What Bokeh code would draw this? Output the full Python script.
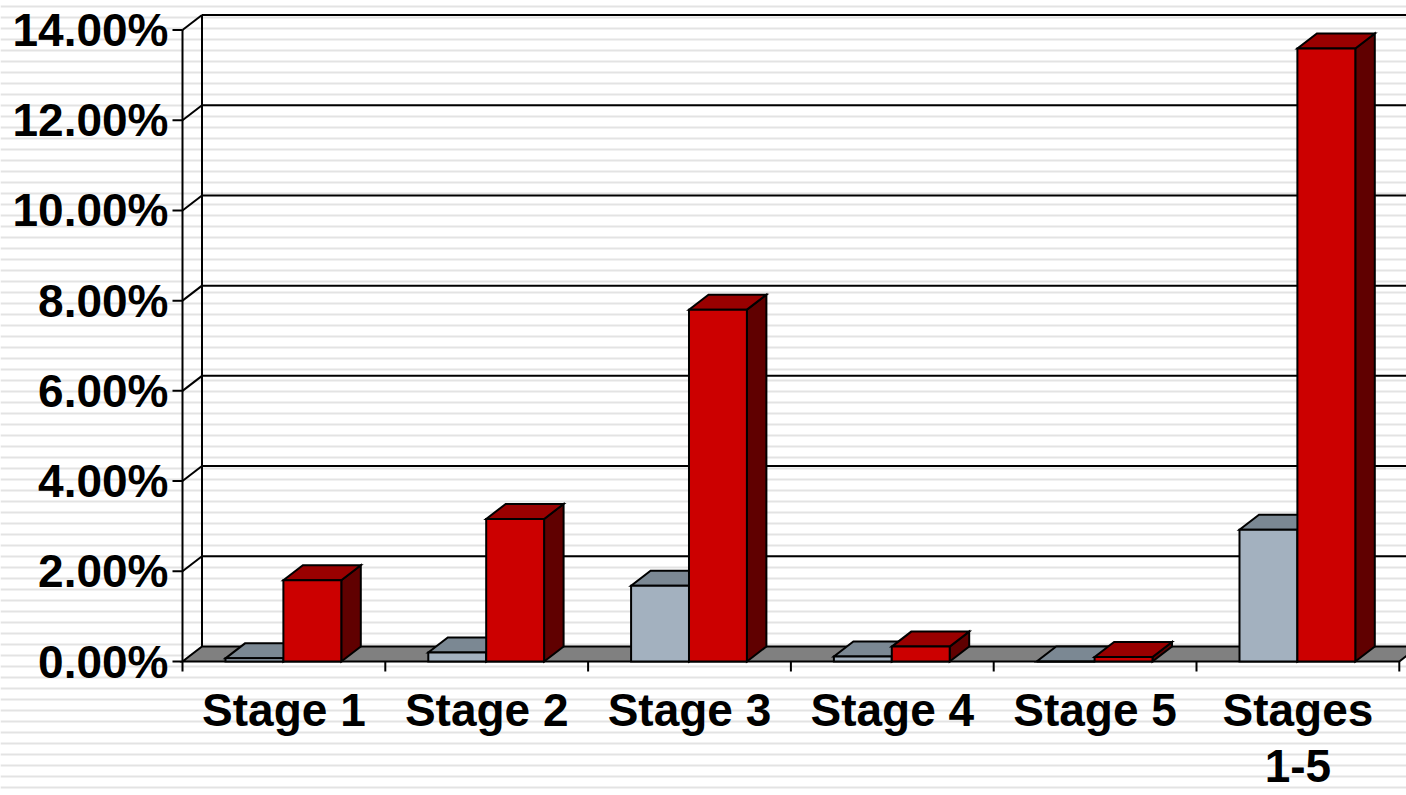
from bokeh.plotting import figure
from bokeh.models import Range1d, BoxAnnotation
from bokeh.core.properties import value
from bokeh.embed import file_html
from bokeh.resources import INLINE

# ---- data -------------------------------------------------------------
categories = ["Stage 1", "Stage 2", "Stage 3", "Stage 4", "Stage 5", "Stages\n1-5"]
series_low = [0.07, 0.20, 1.68, 0.11, 0.00, 2.92]      # light steel-blue columns (%)
series_high = [1.80, 3.16, 7.80, 0.33, 0.10, 13.59]    # red columns (%)
y_ticks = [0, 2, 4, 6, 8, 10, 12, 14]
y_tick_labels = ["0.00%", "2.00%", "4.00%", "6.00%", "8.00%", "10.00%", "12.00%", "14.00%"]

# ---- layout (pixel scale of the drawing) --------------------------------
W, H = 1406, 795
PX_PER_CAT = 202.8          # horizontal pixels per category slot
PX_PER_PCT = 45.107         # vertical pixels per percentage point
ORIGIN_X, ORIGIN_Y = 182, 661   # screen position of the front (0, 0) corner

def dx(px):
    return px / PX_PER_CAT

def dy(px):
    return px / PX_PER_PCT

DEPTH_X = dx(19.5)          # 3-D depth offset
DEPTH_Y = dy(15.0)
N = len(categories)
Y_MAX = y_ticks[-1]

x_start = -dx(ORIGIN_X)
x_end = dx(W - ORIGIN_X)
y_start = -dy(H - ORIGIN_Y)
y_end = dy(ORIGIN_Y)

p = figure(width=W, height=H, x_range=Range1d(x_start, x_end), y_range=Range1d(y_start, y_end),
           x_axis_type=None, y_axis_type=None, output_backend="svg", toolbar_location=None,
           min_border=0, outline_line_color=None, background_fill_color="white",
           border_fill_color="white")

# striped backdrop
p.add_layout(BoxAnnotation(left=x_start, right=x_end, bottom=y_start, top=y_end,
                           fill_color="white", fill_alpha=1.0, line_color=None,
                           hatch_pattern="horizontal_line", hatch_color="#e3e3e3",
                           hatch_weight=2, hatch_scale=11, level="underlay"))

LW = 2
# back wall: left edge, grid lines and side-wall diagonals
p.segment(x0=[DEPTH_X], y0=[DEPTH_Y], x1=[DEPTH_X], y1=[Y_MAX + DEPTH_Y], line_color="black", line_width=LW)
grid_t = [t for t in y_ticks if t > 0]
p.segment(x0=[DEPTH_X] * len(grid_t), y0=[t + DEPTH_Y for t in grid_t],
          x1=[N + DEPTH_X] * len(grid_t), y1=[t + DEPTH_Y for t in grid_t],
          line_color="black", line_width=LW)
p.segment(x0=[0] * len(grid_t), y0=grid_t, x1=[DEPTH_X] * len(grid_t),
          y1=[t + DEPTH_Y for t in grid_t], line_color="black", line_width=LW)

# floor
p.patch(x=[0, N, N + DEPTH_X, DEPTH_X], y=[0, 0, DEPTH_Y, DEPTH_Y], fill_color="#808080",
        line_color="black", line_width=LW, line_join="miter")

# front value axis with ticks
p.segment(x0=[0], y0=[0], x1=[0], y1=[Y_MAX], line_color="black", line_width=LW)
p.segment(x0=[-dx(10)] * len(y_ticks), y0=y_ticks, x1=[0] * len(y_ticks), y1=y_ticks,
          line_color="black", line_width=LW)
# category axis ticks at slot boundaries
bounds = list(range(N + 1))
p.segment(x0=bounds, y0=[0] * len(bounds), x1=bounds, y1=[-dy(10)] * len(bounds),
          line_color="black", line_width=LW)

# ---- 3-D columns --------------------------------------------------------
BAR_W = 0.2855
LOW_OFF = 0.212

def faces(left, height):
    right = left + BAR_W
    front = ([left, right, right, left], [0, 0, height, height])
    top = ([left, right, right + DEPTH_X, left + DEPTH_X],
           [height, height, height + DEPTH_Y, height + DEPTH_Y])
    side = ([right, right + DEPTH_X, right + DEPTH_X, right],
            [0, DEPTH_Y, height + DEPTH_Y, height])
    return front, top, side

def draw_series(values, offset, c_front, c_top, c_side):
    fr_x, fr_y, tp_x, tp_y, sd_x, sd_y = [], [], [], [], [], []
    for i, v in enumerate(values):
        (fx, fy), (tx, ty), (sx, sy) = faces(i + offset, v)
        fr_x.append(fx); fr_y.append(fy)
        tp_x.append(tx); tp_y.append(ty)
        sd_x.append(sx); sd_y.append(sy)
    kw = dict(line_color="black", line_width=LW, line_join="miter")
    p.patches(xs=sd_x, ys=sd_y, fill_color=c_side, **kw)
    p.patches(xs=tp_x, ys=tp_y, fill_color=c_top, **kw)
    p.patches(xs=fr_x, ys=fr_y, fill_color=c_front, **kw)

draw_series(series_low, LOW_OFF, "#a3b1bf", "#7b8893", "#5d6872")
draw_series(series_high, LOW_OFF + BAR_W, "#cc0000", "#990000", "#600000")

# ---- labels -------------------------------------------------------------
font = dict(text_font=value("Liberation Sans"), text_font_style="bold",
            text_font_size="46px", text_color="black")

p.text(x=[-dx(14)] * len(y_ticks), y=y_ticks, text=y_tick_labels,
       text_align="right", text_baseline="middle", **font)

# category labels, one glyph call per text line
LINE_OFFSETS = [48, 104]    # pixels below the front edge of the floor
for k, off in enumerate(LINE_OFFSETS):
    xs, ys, ts = [], [], []
    for i, c in enumerate(categories):
        lines = c.split("\n")
        if k < len(lines):
            xs.append(i + 0.5)
            ys.append(-dy(off))
            ts.append(lines[k])
    p.text(x=xs, y=ys, text=ts, text_align="center", text_baseline="middle", **font)

open("out.html", "w").write(file_html(p, INLINE))
